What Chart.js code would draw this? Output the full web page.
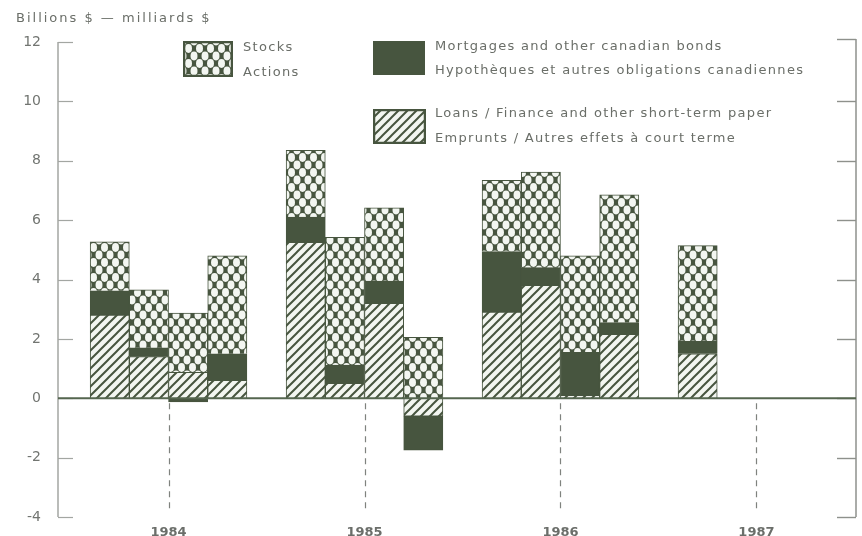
<!DOCTYPE html>
<html>
<head>
<meta charset="utf-8">
<script src="https://cdn.jsdelivr.net/npm/chart.js@4/dist/chart.umd.min.js"></script>
<style>
  html, body { margin: 0; padding: 0; background: #ffffff; }
  #wrap { position: relative; width: 862px; height: 536px; overflow: hidden; }
  #c { position: absolute; left: 0; top: 0; }
  .txt { position: absolute; font-family: "DejaVu Sans", sans-serif; font-size: 13px; line-height: 16px;
         color: #6a6e68; white-space: nowrap; letter-spacing: 1.3px; }
  .sw { position: absolute; }
</style>
</head>
<body>
<div id="wrap">
  <canvas id="c" width="862" height="536"></canvas>
  <div class="txt" style="left:16px; top:10px; letter-spacing:2px;">Billions $ — milliards $</div>
  <canvas class="sw" id="swStocks" width="50" height="36" style="left:183px; top:41px;"></canvas>
  <div class="txt" style="left:243px; top:39px;">Stocks</div>
  <div class="txt" style="left:243px; top:64px;">Actions</div>
  <canvas class="sw" id="swMort" width="52" height="34" style="left:373px; top:41px;"></canvas>
  <div class="txt" style="left:435px; top:38px;">Mortgages and other canadian bonds</div>
  <div class="txt" style="left:435px; top:62px;">Hypothèques et autres obligations canadiennes</div>
  <canvas class="sw" id="swLoans" width="53" height="35" style="left:373px; top:109px;"></canvas>
  <div class="txt" style="left:435px; top:105px;">Loans / Finance and other short-term paper</div>
  <div class="txt" style="left:435px; top:130px;">Emprunts / Autres effets à court terme</div>
</div>
<script>
// ---------- data (billions of dollars, quarterly) ----------
const quarters  = ['1984-Q1','1984-Q2','1984-Q3','1984-Q4',
                   '1985-Q1','1985-Q2','1985-Q3','1985-Q4',
                   '1986-Q1','1986-Q2','1986-Q3','1986-Q4',
                   '1987-Q1'];
const loans     = [2.8, 1.4, 0.87, 0.6, 5.25, 0.5, 3.2, -0.6, 2.9, 3.8, 0.1, 2.15, 1.5];
const mortgages = [0.82, 0.3, -0.12, 0.9, 0.85, 0.62, 0.75, -1.15, 2.04, 0.6, 1.45, 0.4, 0.42];
const stocks    = [1.65, 1.95, 2.0, 3.3, 2.25, 4.3, 2.46, 2.05, 2.4, 3.22, 3.25, 4.3, 3.22];
const yearLabels = ['1984', '1985', '1986', '1987'];
const yTickValues = [-4, -2, 0, 2, 4, 6, 8, 10, 12];

// ---------- helpers ----------
const DARK = '#47553f';
const LIGHT = '#f3f6f1';
const firstYear = parseInt(yearLabels[0], 10);
function slotOf(label) {               // 4 quarters + 1 blank slot per year
  const [y, q] = label.split('-Q').map(Number);
  return (y - firstYear) * 5 + (q - 1) + 0.5;
}
function yearCenter(i) { return i * 5 + 2; }

function makeCross() {
  const c = document.createElement('canvas'); c.width = 11; c.height = 15;
  const g = c.getContext('2d');
  g.fillStyle = DARK; g.fillRect(0, 0, 11, 15);
  g.fillStyle = LIGHT;
  const centers = [[0,0],[11,0],[0,15],[11,15],[5.5,7.5]];
  for (const [cx, cy] of centers) {
    g.beginPath();
    g.ellipse(cx, cy, 3.5, 4.4, 0, 0, Math.PI * 2);
    g.fill();
  }
  return c;
}
function makeHatch() {
  const c = document.createElement('canvas'); c.width = 9; c.height = 9;
  const g = c.getContext('2d');
  g.fillStyle = LIGHT; g.fillRect(0, 0, 9, 9);
  g.strokeStyle = DARK; g.lineWidth = 2;
  g.beginPath();
  g.moveTo(-2, 11); g.lineTo(11, -2);
  g.moveTo(-7, 7); g.lineTo(7, -7);
  g.moveTo(2, 16); g.lineTo(16, 2);
  g.stroke();
  return c;
}
const crossTile = makeCross();
const hatchTile = makeHatch();
const ctx = document.getElementById('c').getContext('2d');
const crossPat = ctx.createPattern(crossTile, 'repeat');
const hatchPat = ctx.createPattern(hatchTile, 'repeat');

function drawSwatch(id, fill) {
  const cv = document.getElementById(id); const g = cv.getContext('2d');
  g.fillStyle = (fill === DARK) ? DARK : g.createPattern(fill, 'repeat');
  g.fillRect(0, 0, cv.width, cv.height);
  g.strokeStyle = DARK; g.lineWidth = 2.5; g.strokeRect(1, 1, cv.width - 2, cv.height - 2);
}
drawSwatch('swStocks', crossTile);
drawSwatch('swMort', DARK);
drawSwatch('swLoans', hatchTile);

const toPts = arr => arr.map((v, i) => ({ x: slotOf(quarters[i]), y: v }));

const decor = {
  id: 'decor',
  afterDatasetsDraw(chart) {
    const { ctx, chartArea: a, scales: { x, y } } = chart;
    const y0 = y.getPixelForValue(0);
    ctx.save();
    // left axis
    ctx.strokeStyle = '#a3a6a2'; ctx.lineWidth = 1.5;
    ctx.beginPath(); ctx.moveTo(a.left, y.getPixelForValue(12)); ctx.lineTo(a.left, y.getPixelForValue(-4)); ctx.stroke();
    ctx.lineWidth = 1.2;
    for (const v of yTickValues) {
      const py = Math.round(y.getPixelForValue(v)) + 0.5;
      ctx.beginPath(); ctx.moveTo(a.left, py); ctx.lineTo(a.left + 15, py); ctx.stroke();
    }
    // right axis
    ctx.strokeStyle = '#8e918c'; ctx.lineWidth = 1.5;
    ctx.beginPath(); ctx.moveTo(a.right, y.getPixelForValue(12) - 3); ctx.lineTo(a.right, y.getPixelForValue(-4)); ctx.stroke();
    ctx.lineWidth = 1.4;
    for (const v of yTickValues) {
      const py = Math.round(y.getPixelForValue(v) - (v === 12 ? 3 : 0)) + 0.5;
      ctx.beginPath(); ctx.moveTo(a.right, py); ctx.lineTo(a.right - 19, py); ctx.stroke();
    }
    // zero line
    ctx.strokeStyle = '#55664f'; ctx.lineWidth = 2;
    ctx.beginPath(); ctx.moveTo(a.left, y0); ctx.lineTo(a.right, y0); ctx.stroke();
    // dashed year markers
    ctx.strokeStyle = '#7f827e'; ctx.lineWidth = 1.2; ctx.setLineDash([6, 5]);
    yearLabels.forEach((_, i) => {
      const px = Math.round(x.getPixelForValue(yearCenter(i))) + 0.5;
      ctx.beginPath(); ctx.moveTo(px, y0 + 5); ctx.lineTo(px, a.bottom - 5); ctx.stroke();
    });
    ctx.restore();
  }
};

new Chart(ctx, {
  type: 'bar',
  data: {
    datasets: [
      { label: 'Loans / Finance and other short-term paper', data: toPts(loans),
        backgroundColor: hatchPat, borderColor: DARK, borderWidth: 1 },
      { label: 'Mortgages and other canadian bonds', data: toPts(mortgages),
        backgroundColor: DARK, borderColor: DARK, borderWidth: 1 },
      { label: 'Stocks', data: toPts(stocks),
        backgroundColor: crossPat, borderColor: DARK, borderWidth: 1 }
    ]
  },
  options: {
    responsive: false,
    animation: false,
    devicePixelRatio: 1,
    layout: { padding: { top: 42, right: 6, bottom: 0, left: 0 } },
    plugins: { legend: { display: false }, tooltip: { enabled: false }, title: { display: false } },
    datasets: { bar: { barPercentage: 1, categoryPercentage: 1 } },
    scales: {
      x: {
        type: 'linear', stacked: true, min: -0.82, max: 19.54, offset: false,
        grid: { display: false, offset: false }, border: { display: false },
        afterBuildTicks: s => { s.ticks = yearLabels.map((_, i) => ({ value: yearCenter(i) })); },
        afterFit: s => { s.height = 19; },
        ticks: {
          autoSkip: false, maxRotation: 0, padding: 0,
          color: '#6b6e6a', font: { family: 'DejaVu Sans', size: 13, weight: 'bold' },
          callback: (v, i) => yearLabels[i]
        }
      },
      y: {
        stacked: true, min: -4, max: 12,
        grid: { display: false }, border: { display: false },
        afterBuildTicks: s => { s.ticks = yTickValues.map(v => ({ value: v })); },
        afterFit: s => { s.width = 58; },
        ticks: { padding: 9, color: '#727571', font: { family: 'DejaVu Sans', size: 14 } }
      }
    }
  },
  plugins: [decor]
});
</script>
</body>
</html>
